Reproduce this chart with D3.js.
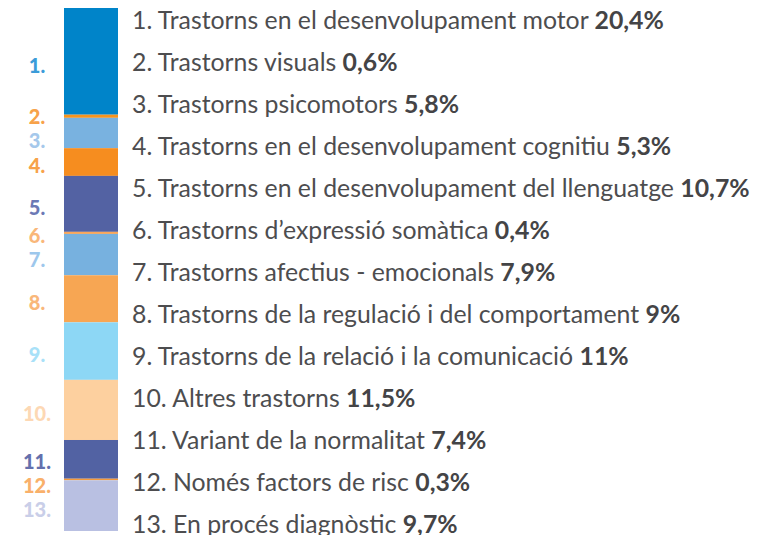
<!DOCTYPE html>
<html>
<head>
<meta charset="utf-8">
<script src="https://cdn.jsdelivr.net/npm/d3@7"></script>
<style>
  html, body { margin: 0; padding: 0; background: #fff; overflow: hidden; }
</style>
</head>
<body>
<div id="chart"></div>
<script>
// data
const names = [
    "Trastorns en el desenvolupament motor",
    "Trastorns visuals",
    "Trastorns psicomotors",
    "Trastorns en el desenvolupament cognitiu",
    "Trastorns en el desenvolupament del llenguatge",
    "Trastorns d\u2019expressió somàtica",
    "Trastorns afectius - emocionals",
    "Trastorns de la regulació i del comportament",
    "Trastorns de la relació i la comunicació",
    "Altres trastorns",
    "Variant de la normalitat",
    "Només factors de risc",
    "En procés diagnòstic"
];
const values = [20.4, 0.6, 5.8, 5.3, 10.7, 0.4, 7.9, 9, 11, 11.5, 7.4, 0.3, 9.7];
const valueLabels = ["20,4%", "0,6%", "5,8%", "5,3%", "10,7%", "0,4%", "7,9%", "9%", "11%", "11,5%", "7,4%", "0,3%", "9,7%"];
const barColors = ["#0084c9", "#f7941d", "#79b2e0", "#f68d1f", "#5362a3", "#f9a65a", "#77b1df",
                   "#f7a653", "#8dd7f5", "#fdd09f", "#5262a3", "#f79a3a", "#b9c0e2"];
const labelColors = ["#3b9cd9", "#f7a24a", "#a5c8eb", "#f7a24a", "#6b79b5", "#f9b77a", "#9dc7ec",
                     "#f9b77a", "#a8e1f8", "#fdd8b4", "#6470ad", "#f9b06a", "#c9cee8"];

const width = 775, height = 535;

const svg = d3.select("#chart").append("svg")
    .attr("width", width)
    .attr("height", height)
    .style("font-family", "Lato, 'Open Sans', sans-serif");

// stacked rows
let acc = 0;
const rows = values.map((v, i) => {
    const r = { i: i, y0: acc, y1: acc + v };
    acc += v;
    return r;
});

const y = d3.scaleLinear().domain([0, d3.sum(values)]).range([8, 531]);
const barX = 64, barW = 54;

svg.append("g").selectAll("rect")
    .data(rows)
    .join("rect")
    .attr("x", barX)
    .attr("width", barW)
    .attr("y", d => y(d.y0))
    .attr("height", d => Math.max(1.5, y(d.y1) - y(d.y0)))
    .attr("fill", d => barColors[d.i]);

// number labels next to the bar, pushed apart where slices are thin
const pos = rows.map(d => y((d.y0 + d.y1) / 2) + 4);
const minGap = 24;
for (let k = 0; k < 50; k++) {
    for (let i = 1; i < pos.length; i++) {
        const gap = pos[i] - pos[i - 1];
        if (gap < minGap) {
            const push = (minGap - gap) / 2;
            pos[i - 1] -= push;
            pos[i] += push;
        }
    }
}

svg.append("g").selectAll("text")
    .data(rows)
    .join("text")
    .attr("x", 37)
    .attr("y", (d, i) => pos[i])
    .attr("dy", "0.36em")
    .attr("text-anchor", "middle")
    .style("font-size", "20px")
    .style("font-weight", 900)
    .attr("fill", d => labelColors[d.i])
    .text(d => (d.i + 1) + ".");

// legend list
const legendY = d3.scalePoint()
    .domain(d3.range(names.length))
    .range([20, 524]);

const legend = svg.append("g").selectAll("text")
    .data(rows)
    .join("text")
    .attr("x", 132)
    .attr("y", d => legendY(d.i))
    .attr("dy", "0.36em")
    .style("font-size", "21px")
    .attr("fill", "#4d4d4f");

legend.append("tspan")
    .text(d => (d.i + 1) + ". " + names[d.i] + " ");
legend.append("tspan")
    .style("font-weight", 700)
    .attr("fill", "#444446")
    .text(d => valueLabels[d.i]);

// fit the longest row to the width seen in the picture
const longest = legend.filter(d => d.i === 4).node().getComputedTextLength();
legend.style("font-size", (21 * 618 / longest) + "px");
</script>
</body>
</html>
